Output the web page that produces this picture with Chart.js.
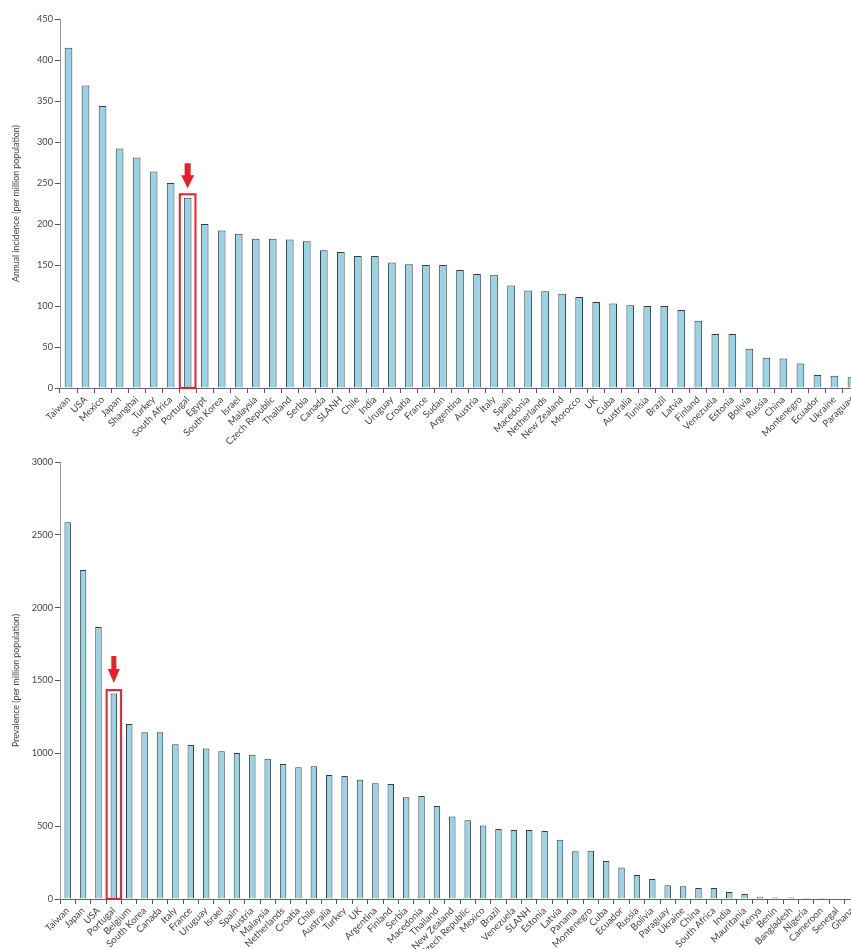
<!DOCTYPE html>
<html>
<head>
<meta charset="utf-8">
<script src="https://cdn.jsdelivr.net/npm/chart.js@4/dist/chart.umd.min.js"></script>
<style>
html,body{margin:0;padding:0;background:#fff;overflow:hidden;width:851px;height:949px;}
canvas{position:absolute;left:0;}
#c1{top:0;}
#c2{top:440px;}
</style>
</head>
<body>
<canvas id="c1" width="862" height="456"></canvas>
<canvas id="c2" width="862" height="509"></canvas>
<script>
// ---- Data: annual incidence ----
const incidenceCountries = ["Taiwan","USA","Mexico","Japan","Shanghai","Turkey","South Africa","Portugal","Egypt","South Korea","Israel","Malaysia","Czech Republic","Thailand","Serbia","Canada","SLANH","Chile","India","Uruguay","Croatia","France","Sudan","Argentina","Austria","Italy","Spain","Macedonia","Netherlands","New Zealand","Morocco","UK","Cuba","Australia","Tunisia","Brazil","Latvia","Finland","Venezuela","Estonia","Bolivia","Russia","China","Montenegro","Ecuador","Ukraine","Paraguay"];
const incidenceValues = [415,369,344,292,281,264,250,232,200,192,188,182,182,181,179,168,166,161,161,153,151,150,150,144,139,138,125,119,118,115,111,105,103,101,100,100,95,82,66,66,48,37,36,30,16,15,13];
const incidenceTicks = [0,50,100,150,200,250,300,350,400,450];

// ---- Data: prevalence ----
const prevalenceCountries = ["Taiwan","Japan","USA","Portugal","Belgium","South Korea","Canada","Italy","France","Uruguay","Israel","Spain","Austria","Malaysia","Netherlands","Croatia","Chile","Australia","Turkey","UK","Argentina","Finland","Serbia","Macedonia","Thailand","New Zealand","Czech Republic","Mexico","Brazil","Venezuela","SLANH","Estonia","Latvia","Panama","Montenegro","Cuba","Ecuador","Russia","Bolivia","Paraguay","Ukraine","China","South Africa","India","Mauritania","Kenya","Benin","Bangladesh","Nigeria","Cameroon","Senegal","Ghana"];
const prevalenceValues = [2586,2259,1867,1410,1201,1144,1144,1062,1057,1034,1014,1002,991,963,927,904,911,851,844,819,794,789,698,707,638,567,540,505,480,473,473,467,407,327,332,261,217,165,137,94,87,75,75,48,34,16,11,11,7,7,0,0];
const prevalenceTicks = [0,500,1000,1500,2000,2500,3000];

const highlightCountry = "Portugal";

const FILL = '#98d3e6';
const EDGE = '#3c3c3c';
const FONT = 'Lato, "Liberation Sans", sans-serif';

const highlightPlugin = {
  id: 'highlight',
  afterDatasetsDraw(chart, args, opts) {
    const idx = chart.data.labels.indexOf(highlightCountry);
    if (idx < 0) return;
    const bar = chart.getDatasetMeta(0).data[idx];
    const y = chart.scales.y;
    const ctx = chart.ctx;
    const half = bar.width / 2 + 4;
    const top = bar.y - 3.5;
    const bottom = y.getPixelForValue(0);
    ctx.save();
    ctx.strokeStyle = '#e8202a';
    ctx.lineWidth = 2;
    ctx.strokeRect(bar.x - half, top, half * 2, bottom - top);
    // arrow
    const tip = top - opts.gap;
    const headH = opts.headH, headW = opts.headW, shaftW = opts.shaftW, len = opts.len;
    ctx.fillStyle = '#e8202a';
    ctx.beginPath();
    ctx.moveTo(bar.x - shaftW / 2, tip - len);
    ctx.lineTo(bar.x + shaftW / 2, tip - len);
    ctx.lineTo(bar.x + shaftW / 2, tip - headH);
    ctx.lineTo(bar.x + headW / 2, tip - headH);
    ctx.lineTo(bar.x, tip);
    ctx.lineTo(bar.x - headW / 2, tip - headH);
    ctx.lineTo(bar.x - shaftW / 2, tip - headH);
    ctx.closePath();
    ctx.fill();
    ctx.restore();
  }
};

function makeChart(id, labels, values, ticks, title, xHeight, topPad, barPct, arrow) {
  return new Chart(document.getElementById(id), {
    type: 'bar',
    data: {
      labels: labels,
      datasets: [{
        data: values,
        backgroundColor: FILL,
        borderColor: EDGE,
        borderWidth: {top: 1, left: 1, right: 1, bottom: 0},
        categoryPercentage: 1,
        barPercentage: barPct
      }]
    },
    options: {
      responsive: false,
      animation: false,
      layout: {padding: {left: 0, top: topPad, right: 2, bottom: 0}},
      plugins: {legend: {display: false}, tooltip: {enabled: false}, highlight: arrow},
      scales: {
        x: {
          afterFit: s => { s.height = xHeight; },
          grid: {offset: true, drawOnChartArea: false, drawTicks: true, tickLength: 5, color: '#555'},
          border: {display: true, color: '#666', width: 1},
          ticks: {autoSkip: false, maxRotation: 45, minRotation: 45, padding: 1,
                  color: '#444', font: {family: FONT, size: 9.6}}
        },
        y: {
          min: ticks[0], max: ticks[ticks.length - 1],
          afterFit: s => { s.width = 60; },
          afterBuildTicks: s => { s.ticks = ticks.map(v => ({value: v})); },
          grid: {drawOnChartArea: false, drawTicks: true, tickLength: 5, color: '#555'},
          border: {display: true, color: '#999', width: 1},
          ticks: {padding: 2, color: '#444', font: {family: FONT, size: 9.2},
                  callback: v => String(v)},
          title: {display: true, text: title, color: '#444',
                  font: {family: FONT, size: 8.8}, padding: {top: 11, bottom: 0}}
        }
      }
    },
    plugins: [highlightPlugin]
  });
}

makeChart('c1', incidenceCountries, incidenceValues, incidenceTicks,
  'Annual incidence (per million population)', 68, 19, 0.45,
  {gap: 6, len: 25, headH: 13, headW: 13, shaftW: 6});
makeChart('c2', prevalenceCountries, prevalenceValues, prevalenceTicks,
  'Prevalence (per million population)', 50, 22, 0.42,
  {gap: 7, len: 27, headH: 14, headW: 12, shaftW: 5});
</script>
</body>
</html>
